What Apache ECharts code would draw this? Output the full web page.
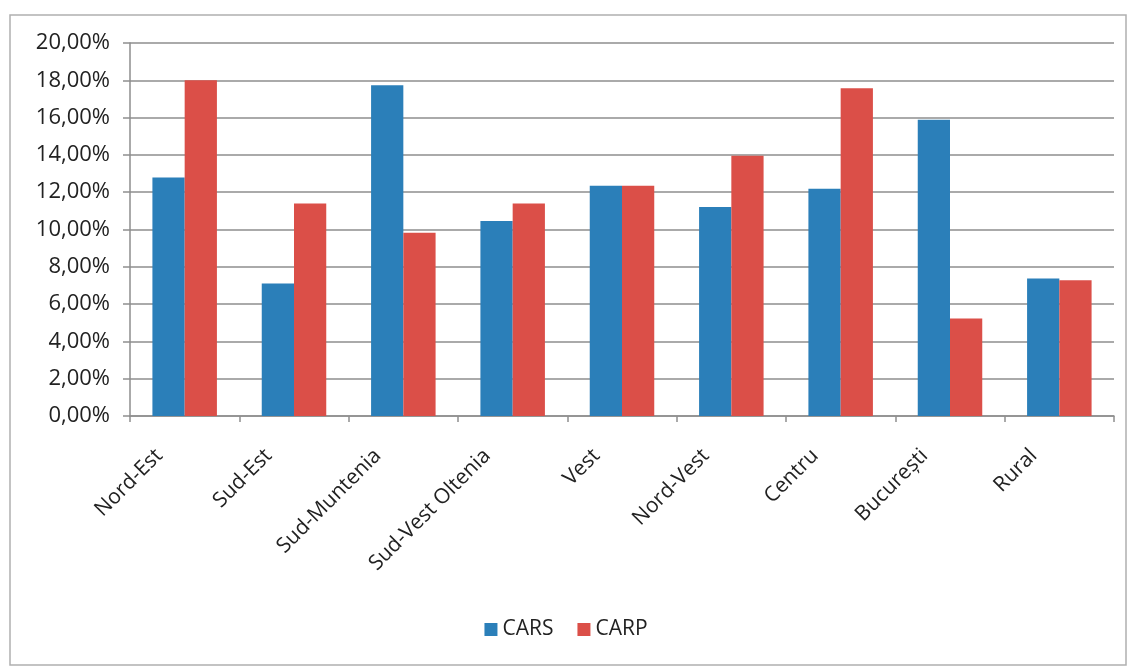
<!DOCTYPE html>
<html>
<head>
<meta charset="utf-8">
<script src="https://cdn.jsdelivr.net/npm/echarts@6/dist/echarts.min.js"></script>
<style>
  html, body { margin: 0; padding: 0; background: #fff; }
  #chart { width: 1132px; height: 668px; }
</style>
</head>
<body>
<div id="chart"></div>
<script>
// regiuni
const categories = ['Nord-Est', 'Sud-Est', 'Sud-Muntenia', 'Sud-Vest Oltenia', 'Vest', 'Nord-Vest', 'Centru', 'București', 'Rural']
// valori in procente
const cars = [12.79, 7.11, 17.73, 10.46, 12.34, 11.21, 12.18, 15.89, 7.37]
const carp = [18.0, 11.39, 9.82, 11.39, 12.34, 13.96, 17.57, 5.23, 7.28]

const fontFam = '"Open Sans", "Noto Sans", sans-serif'

const chart = echarts.init(document.getElementById('chart'))
chart.setOption({
  animation: false,
  graphic: [
    {
      type: 'rect',
      shape: { x: 10, y: 15, width: 1116, height: 650 },
      style: { fill: 'none', stroke: '#b0b0b0', lineWidth: 1.5 },
      z: -1,
    },
  ],
  grid: { left: 130, right: 18, top: 43, bottom: 252 },
  legend: {
    bottom: 23,
    left: 'center',
    itemWidth: 13,
    itemHeight: 13,
    itemGap: 24,
    icon: 'rect',
    textStyle: { fontFamily: fontFam, fontSize: 21, color: '#222' },
    data: ['CARS', 'CARP'],
  },
  xAxis: {
    type: 'category',
    data: categories,
    axisLine: { lineStyle: { color: '#8e8e8e', width: 1.5 } },
    axisTick: { show: true, length: 6, lineStyle: { color: '#8e8e8e', width: 1.5 } },
    axisLabel: {
      rotate: 45,
      interval: 0,
      margin: 11,
      padding: [0, 36, 0, 0],
      fontFamily: fontFam,
      fontSize: 21,
      color: '#222',
    },
  },
  yAxis: {
    type: 'value',
    min: 0,
    max: 20,
    interval: 2,
    axisLine: { show: true, lineStyle: { color: '#8e8e8e', width: 1.5 } },
    axisTick: { show: true, length: 7, lineStyle: { color: '#8e8e8e', width: 1.5 } },
    splitLine: { lineStyle: { color: '#8e8e8e', width: 1.5 } },
    axisLabel: {
      margin: 20,
      fontFamily: fontFam,
      fontSize: 22,
      color: '#222',
      formatter: (v) => v.toFixed(2).replace('.', ',') + '%',
    },
  },
  series: [
    {
      name: 'CARS',
      type: 'bar',
      data: cars,
      barGap: '0%',
      barCategoryGap: '41%',
      itemStyle: { color: '#2b7fb9' },
    },
    {
      name: 'CARP',
      type: 'bar',
      data: carp,
      barGap: '0%',
      barCategoryGap: '41%',
      itemStyle: { color: '#db4f48' },
    },
  ],
})
</script>
</body>
</html>
